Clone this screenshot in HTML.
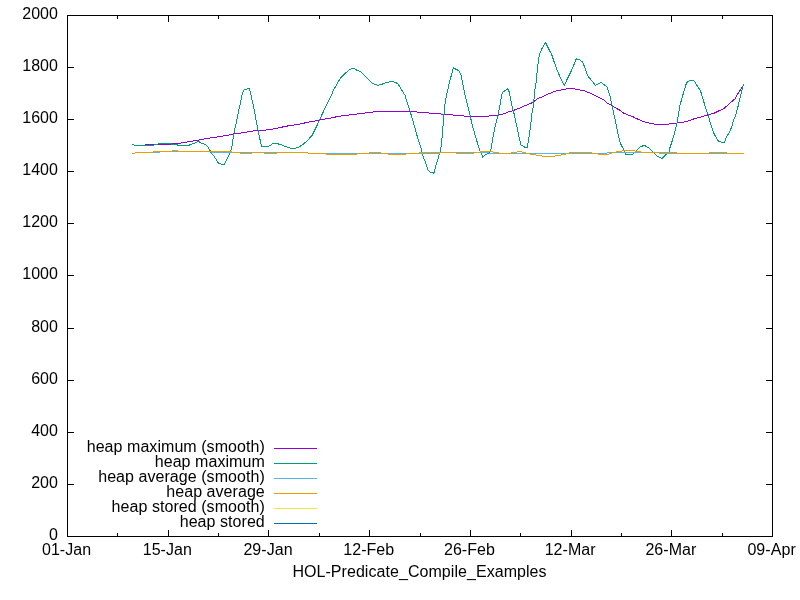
<!DOCTYPE html>
<html><head><meta charset="utf-8"><style>
html,body{margin:0;padding:0;background:#fff;width:800px;height:600px;overflow:hidden}
svg{display:block;will-change:transform}
text{font-family:"Liberation Sans",Arial,sans-serif;font-size:16px;fill:#000;letter-spacing:0.055px}
</style></head><body>
<svg width="800" height="600" viewBox="0 0 800 600">
<rect width="800" height="600" fill="#fff"/>
<g fill="none" stroke-width="1" stroke-linejoin="round" shape-rendering="crispEdges">
<path d="M145.00 144.50 L168.50 144.50 L171.50 144.00 L174.50 143.50 L178.50 143.50 L181.50 143.00 L187.00 142.00 L193.00 141.00 L198.75 140.00 L204.50 139.00 L210.00 138.00 L217.00 137.00 L223.00 136.00 L229.00 135.00 L234.50 134.00 L241.00 133.00 L247.00 132.00 L253.00 131.00 L256.00 130.50 L263.00 130.50 L266.00 130.00 L273.00 129.00 L278.00 128.00 L282.50 127.00 L287.50 126.00 L294.00 125.00 L300.00 124.00 L304.50 123.00 L309.00 122.00 L315.00 121.00 L320.00 120.00 L325.00 119.00 L331.00 118.00 L335.50 117.00 L341.00 116.00 L349.00 115.00 L357.00 114.00 L365.00 113.00 L373.00 112.00 L376.00 111.50 L413.90 111.50 L416.90 112.00 L419.90 112.50 L426.00 112.50 L429.00 113.00 L432.00 113.50 L438.00 113.50 L441.00 114.00 L444.00 114.50 L449.75 114.50 L452.75 115.00 L455.75 115.50 L461.00 115.50 L464.00 116.00 L467.00 116.50 L485.75 116.50 L488.75 116.00 L491.75 115.50 L495.00 115.50 L498.00 115.00 L502.70 114.00 L506.00 113.00 L508.00 112.00 L511.75 111.00 L514.60 110.00 L516.75 109.00 L520.00 108.00 L521.75 107.00 L524.25 106.00 L526.75 105.00 L529.25 104.00 L531.40 103.00 L533.30 102.00 L534.60 101.00 L535.90 100.00 L537.10 99.00 L539.00 98.00 L541.80 97.00 L544.00 96.00 L545.90 95.00 L548.00 94.00 L550.90 93.00 L553.00 92.00 L556.20 91.00 L560.90 90.00 L565.90 89.00 L568.90 88.50 L571.90 88.50 L574.90 89.00 L579.90 90.00 L584.80 91.00 L587.00 92.00 L589.80 93.00 L592.00 94.00 L593.90 95.00 L596.00 96.00 L598.00 97.00 L600.00 98.00 L602.00 99.00 L603.90 100.00 L605.00 101.00 L606.00 102.00 L607.00 103.00 L609.00 104.00 L611.00 105.00 L612.50 106.00 L614.00 107.00 L615.75 108.00 L617.50 109.00 L619.50 110.00 L621.00 111.00 L622.00 112.00 L623.50 113.00 L626.00 114.00 L628.00 115.00 L631.00 116.00 L633.40 117.00 L635.00 118.00 L637.50 119.00 L639.75 120.00 L642.40 121.00 L645.00 122.00 L649.00 123.00 L654.00 124.00 L657.00 124.50 L666.00 124.50 L669.00 124.00 L677.00 123.00 L684.00 122.00 L688.00 121.00 L693.50 119.00 L701.00 117.10 L707.75 114.90 L714.50 113.00 L719.75 110.40 L724.25 108.40 L729.50 103.40 L734.75 99.10 L738.50 92.75 L743.50 85.00" stroke="#9400d3"/>
<path d="M132.00 144.40 L135.00 145.40 L153.00 145.40 L155.00 144.50 L160.00 143.60 L171.50 143.50 L172.00 144.50 L177.80 144.50 L178.00 145.50 L188.70 145.50 L190.50 144.50 L192.00 144.00 L194.00 143.50 L196.00 142.50 L198.70 141.50 L200.00 142.30 L202.30 143.50 L205.25 144.30 L207.00 145.80 L208.20 147.50 L209.60 149.90 L211.40 153.10 L213.40 155.40 L215.75 158.90 L217.50 161.80 L218.70 163.60 L220.40 163.60 L221.60 164.50 L224.50 164.50 L226.80 159.50 L228.60 156.00 L229.75 153.10 L231.50 149.00 L233.00 139.00 L234.60 130.20 L236.25 122.50 L237.90 114.80 L239.50 107.10 L241.20 99.40 L242.30 93.90 L244.00 90.00 L246.20 89.30 L248.90 88.40 L250.00 90.60 L251.65 98.30 L253.85 108.20 L255.50 117.00 L257.15 125.80 L258.80 133.50 L259.40 137.00 L260.50 141.50 L261.40 145.50 L261.60 146.50 L268.60 146.50 L273.00 143.50 L276.70 143.50 L281.00 144.70 L285.00 146.50 L289.00 147.60 L292.00 148.50 L294.50 148.50 L299.00 147.00 L303.00 144.50 L307.00 141.00 L312.00 135.50 L314.00 131.50 L317.00 125.50 L320.00 119.00 L323.00 112.50 L325.00 108.00 L327.00 104.00 L329.50 99.50 L331.40 95.20 L333.80 89.50 L337.10 83.80 L340.40 78.10 L344.20 74.30 L348.50 70.40 L350.90 69.10 L353.70 68.50 L357.50 70.50 L360.40 71.50 L364.20 75.30 L368.00 79.10 L372.30 83.40 L374.60 84.30 L378.00 85.30 L381.75 84.30 L387.00 82.40 L391.25 81.50 L395.50 82.40 L397.90 83.80 L400.30 87.60 L403.10 92.40 L405.00 95.20 L408.50 107.00 L410.00 111.00 L412.50 119.50 L418.30 140.00 L420.70 146.70 L422.00 153.30 L425.00 161.30 L428.00 170.00 L430.30 172.30 L432.70 172.50 L434.00 173.30 L435.00 168.70 L438.00 158.70 L440.30 150.70 L441.40 145.00 L443.80 116.70 L445.20 102.50 L446.60 95.40 L448.70 85.50 L451.60 74.20 L453.30 67.80 L455.80 69.20 L458.70 70.60 L460.80 74.20 L462.90 84.00 L465.30 96.00 L467.50 104.50 L470.10 115.70 L472.80 126.90 L475.50 136.50 L478.10 145.10 L480.30 151.50 L482.90 157.30 L485.60 154.70 L488.00 153.50 L490.00 151.30 L490.30 149.75 L491.25 148.50 L491.50 146.00 L492.60 139.00 L494.80 128.00 L497.00 119.20 L498.30 114.80 L499.75 106.00 L501.40 97.20 L502.50 92.25 L505.25 90.60 L508.00 88.60 L509.10 91.70 L510.75 99.40 L512.40 108.20 L513.30 111.00 L514.40 115.00 L515.50 120.30 L516.60 125.40 L517.70 130.50 L518.80 135.70 L519.90 140.80 L521.00 145.00 L523.20 146.30 L525.40 147.40 L526.90 148.10 L527.60 144.50 L528.70 139.70 L529.80 131.60 L530.90 123.60 L531.60 115.80 L532.40 110.70 L533.50 106.00 L534.50 93.00 L535.50 86.00 L536.45 80.30 L536.90 74.00 L537.80 65.90 L538.70 58.70 L539.60 54.20 L542.30 47.90 L545.45 42.50 L548.60 48.80 L551.75 54.65 L554.00 61.40 L557.60 71.30 L561.20 79.40 L564.35 85.25 L567.50 78.50 L571.10 71.30 L573.80 65.00 L576.30 58.70 L580.10 60.00 L582.35 61.85 L584.60 66.80 L587.75 75.80 L588.40 76.80 L591.60 80.40 L595.50 85.40 L600.90 82.40 L604.90 85.40 L606.60 86.40 L607.50 88.10 L608.25 90.50 L609.50 94.25 L610.40 98.00 L611.40 102.40 L612.30 106.10 L613.50 112.00 L614.40 116.50 L615.50 121.50 L616.50 126.00 L617.40 130.50 L618.30 135.50 L619.50 140.00 L620.40 143.20 L621.50 145.60 L622.50 147.40 L623.75 149.30 L624.70 151.50 L625.60 154.30 L632.50 154.50 L633.75 153.00 L635.60 151.25 L637.50 149.40 L640.00 147.20 L642.00 146.25 L644.00 145.30 L646.00 146.25 L648.75 148.00 L651.25 150.30 L653.00 152.20 L655.00 154.00 L657.50 156.40 L660.00 157.50 L662.00 158.40 L663.75 156.60 L666.25 154.40 L669.00 151.90 L670.00 147.50 L671.25 143.75 L672.50 140.00 L675.40 130.00 L676.90 123.50 L678.00 117.50 L679.10 110.00 L680.00 105.00 L684.00 91.00 L686.00 84.50 L687.50 81.50 L689.75 80.75 L693.50 80.40 L695.00 82.25 L697.25 86.00 L699.90 89.75 L701.40 93.50 L702.50 97.25 L704.00 102.50 L705.50 107.75 L707.00 112.25 L708.30 115.00 L709.30 119.30 L710.40 123.00 L711.70 126.70 L712.80 130.50 L714.10 133.70 L715.50 136.30 L717.10 139.00 L718.40 141.10 L721.60 142.20 L724.50 142.20 L725.30 140.10 L726.90 136.30 L728.50 133.70 L730.10 130.50 L731.50 127.30 L732.50 124.00 L733.60 120.30 L734.70 117.70 L735.70 115.00 L737.75 107.75 L739.25 101.00 L740.75 95.00 L742.25 89.00 L743.50 84.50" stroke="#009e73"/>
<path d="M132 153.5H135M135 152.5H160M160 151.5H211M211 152.5H308M308 153.5H440M440 152.5H489M489 153.5H607M607 152.5H677M677 153.5H744" stroke="#56b4e9"/>
<path d="M132 153.5H135M135 152.5H153M153 151.5H172M172 150.5H178M178 151.5H232M232 152.5H240M240 153.5H252M252 152.5H264M264 153.5H277M277 152.5H308M308 153.5H326M326 154.5H357M357 153.5H369M369 152.5H381M381 153.5H388M388 154.5H406M406 153.5H419M419 152.5H456M456 153.5H474M474 152.5H480M480 151.5H493M493 152.5H499M499 153.5H511M511 152.5H517M517 151.5H522M522 152.5H526M526 153.5H530M530 154.5H536M536 155.5H542M542 156.5H555M555 155.5H561M561 154.5H566M566 153.5H569M569 152.5H592M592 153.5H598M598 154.5H609M609 153.5H612M612 152.5H616M616 151.5H622M622 150.5H635M635 151.5H641M641 152.5H659M659 153.5H709M709 152.5H727M727 153.5H744" stroke="#e69f00"/>
</g>
<path d="M67 15.5H773M67 536.5H773M67.5 15V537M772.5 15V537M68 484.5 H74M766 484.5H772M68 432.5 H74M766 432.5H772M68 380.5 H74M766 380.5H772M68 328.5 H74M766 328.5H772M68 275.5 H74M766 275.5H772M68 223.5 H74M766 223.5H772M68 171.5 H74M766 171.5H772M68 119.5 H74M766 119.5H772M68 67.5 H74M766 67.5H772M117.5 533V536M117.5 16V19M168.5 530V536M168.5 16V22M218.5 533V536M218.5 16V19M268.5 530V536M268.5 16V22M319.5 533V536M319.5 16V19M369.5 530V536M369.5 16V22M420.5 533V536M420.5 16V19M470.5 530V536M470.5 16V22M520.5 533V536M520.5 16V19M571.5 530V536M571.5 16V22M621.5 533V536M621.5 16V19M671.5 530V536M671.5 16V22M722.5 533V536M722.5 16V19" fill="none" stroke="#000" stroke-width="1" shape-rendering="crispEdges"/>
<g text-anchor="end">
<text x="58" y="540">0</text>
<text x="58" y="488">200</text>
<text x="58" y="436">400</text>
<text x="58" y="384">600</text>
<text x="58" y="332">800</text>
<text x="58" y="279">1000</text>
<text x="58" y="227">1200</text>
<text x="58" y="175">1400</text>
<text x="58" y="123">1600</text>
<text x="58" y="71">1800</text>
<text x="58" y="19">2000</text>
<text x="264.8" y="452">heap maximum (smooth)</text>
<text x="264.8" y="467">heap maximum</text>
<text x="264.8" y="482">heap average (smooth)</text>
<text x="264.8" y="497">heap average</text>
<text x="264.8" y="512">heap stored (smooth)</text>
<text x="264.8" y="527">heap stored</text>
</g>
<g text-anchor="middle">
<text x="66.60" y="555">01-Jan</text>
<text x="167.31" y="555">15-Jan</text>
<text x="268.03" y="555">29-Jan</text>
<text x="368.74" y="555">12-Feb</text>
<text x="469.46" y="555">26-Feb</text>
<text x="570.17" y="555">12-Mar</text>
<text x="670.89" y="555">26-Mar</text>
<text x="771.60" y="555">09-Apr</text>
<text x="419.5" y="577">HOL-Predicate_Compile_Examples</text>
</g>
<g fill="none" stroke-width="1" stroke-linejoin="round" shape-rendering="crispEdges">
<path d="M274 448.5H317" stroke="#9400d3"/>
<path d="M274 463.5H317" stroke="#009e73"/>
<path d="M274 478.5H317" stroke="#56b4e9"/>
<path d="M274 493.5H317" stroke="#e69f00"/>
<path d="M274 508.5H317" stroke="#f0e442"/>
<path d="M274 523.5H317" stroke="#0072b2"/>
</g>
</svg>
</body></html>
